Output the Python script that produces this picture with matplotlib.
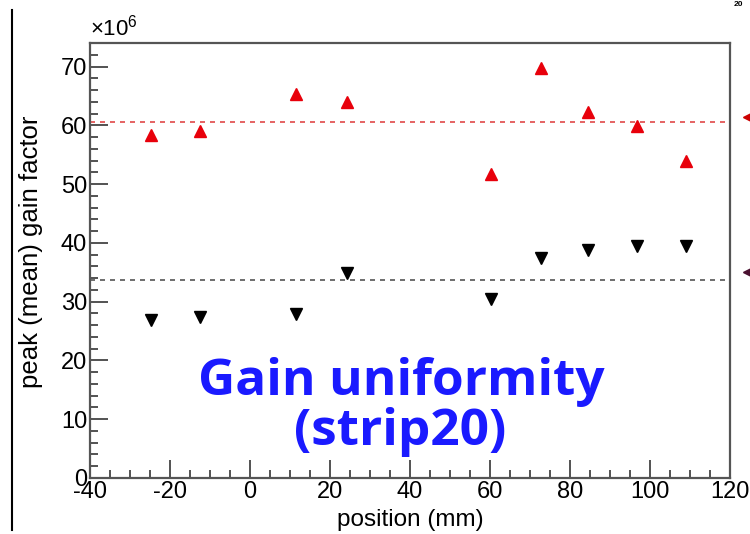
import matplotlib.pyplot as plt
from matplotlib.ticker import MultipleLocator

plt.rcParams['font.family'] = ['Liberation Sans', 'DejaVu Sans']
plt.rcParams['mathtext.fontset'] = 'custom'
plt.rcParams['mathtext.rm'] = 'Liberation Sans'
plt.rcParams['axes.unicode_minus'] = False

# dati (gain in unita' di 1e6)
position = [-24.7, -12.4, 11.6, 24.2, 60.3, 72.8, 84.6, 96.8, 108.9]
gain_peak = [58.3, 59.1, 65.4, 63.9, 51.8, 69.8, 62.3, 59.8, 54.0]
gain_mean = [26.9, 27.4, 27.9, 34.9, 30.5, 37.5, 38.8, 39.5, 39.5]
peak_avg = 60.5
mean_avg = 33.6

fig = plt.figure(figsize=(7.5, 5.34), dpi=100)
ax = fig.add_axes([90 / 750, 1 - 478 / 534, 640 / 750, 435 / 534])

ax.plot(position, gain_peak, linestyle='none', marker='^', markersize=8,
        color='#e8000b')
ax.plot(position, gain_mean, linestyle='none', marker='v', markersize=8,
        color='black')
ax.plot([-40, 119], [peak_avg, peak_avg], linestyle=(0, (3, 3)),
        color='#e04848', linewidth=1.2)
ax.plot([-40, 119], [mean_avg, mean_avg], linestyle=(0, (3, 3)),
        color='#555555', linewidth=1.2)

ax.set_xlim(-40, 120)
ax.set_ylim(0, 74)
ax.xaxis.set_major_locator(MultipleLocator(20))
ax.xaxis.set_minor_locator(MultipleLocator(5))
ax.yaxis.set_major_locator(MultipleLocator(10))
ax.yaxis.set_minor_locator(MultipleLocator(2))
ax.tick_params(which='both', direction='in', top=False, right=False,
               labelsize=17, color='#444444', width=1.3, pad=2)
ax.tick_params(which='major', length=13)
ax.tick_params(which='minor', length=6)
for s in ax.spines.values():
    s.set_color('#555555')
    s.set_linewidth(1.6)

ax.set_xlabel('position (mm)', fontsize=17.5, labelpad=0)
ax.set_ylabel('peak (mean) gain factor', fontsize=18.5, labelpad=4)
ax.yaxis.set_label_coords(-0.073, 0.52)
ax.xaxis.set_label_coords(0.5, -0.072)
ax.text(0.0, 1.005, '×10$^{\\mathregular{6}}$', transform=ax.transAxes,
        fontsize=16, ha='left', va='bottom')

# testo blu della slide
blue = '#1a1aff'
fig.text(401 / 750, 1 - 395 / 534, 'Gain uniformity', color=blue,
         fontsize=37, fontweight='bold', family='Open Sans',
         ha='center', va='baseline')
fig.text(400 / 750, 1 - 445 / 534, '(strip20)', color=blue,
         fontsize=37, fontweight='bold', family='Open Sans',
         ha='center', va='baseline')

# pezzi della slide tagliati
fig.add_artist(plt.Line2D([12 / 750, 12 / 750], [1 - 10 / 534, 1 - 530 / 534],
                          color='black', linewidth=1.5))
fig.text(738 / 750, 0.999, '20', fontsize=6, fontweight='bold', ha='center',
         va='top')
fig.add_artist(plt.Line2D([748 / 750], [1 - 117 / 534], marker='<',
                          markersize=7, color='#cc0000', linestyle='none'))
fig.add_artist(plt.Line2D([748 / 750], [1 - 272 / 534], marker='<',
                          markersize=7, color='#4a1030', linestyle='none'))

fig.savefig('out.png', dpi=100)
